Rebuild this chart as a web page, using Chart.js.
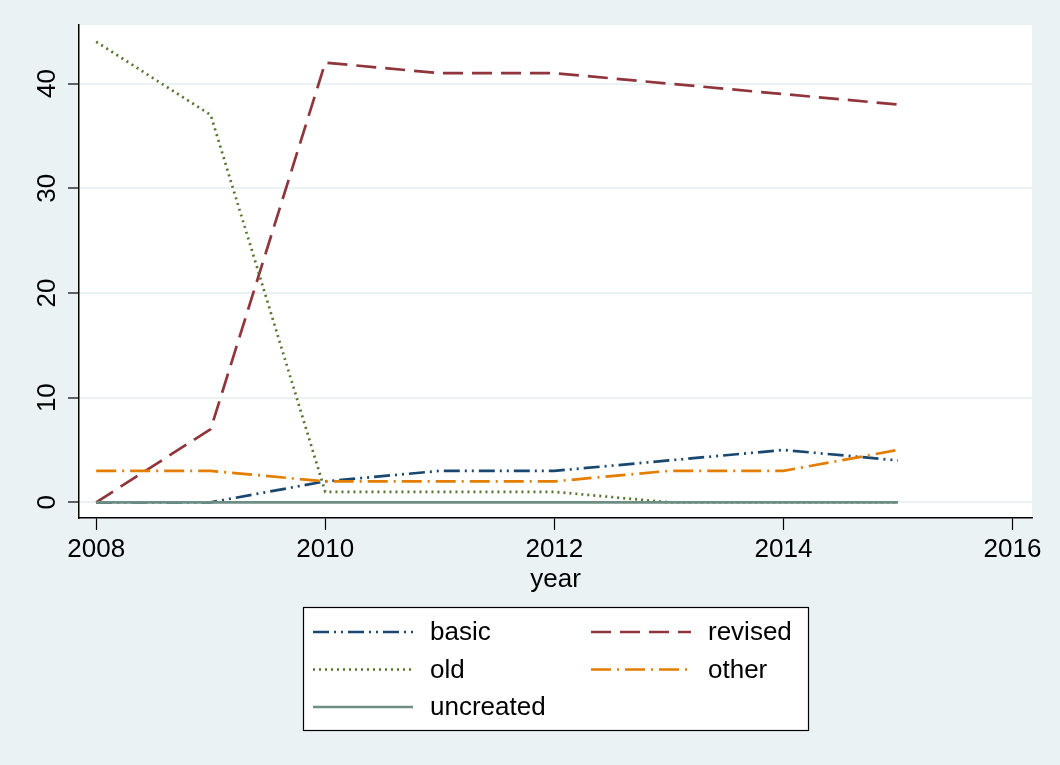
<!DOCTYPE html>
<html>
<head>
<meta charset="utf-8">
<script src="https://cdn.jsdelivr.net/npm/chart.js@4/dist/chart.umd.min.js"></script>
<style>
  html, body { margin: 0; padding: 0; background: #eaf2f3; }
  canvas { display: block; }
</style>
</head>
<body>
<canvas id="chart" width="1060" height="765"></canvas>
<script>
// data
const years = [2008, 2009, 2010, 2011, 2012, 2013, 2014, 2015];
const basic = [0, 0, 2, 3, 3, 4, 5, 4];
const revised = [0, 7, 42, 41, 41, 40, 39, 38];
const old = [44, 37, 1, 1, 1, 0, 0, 0];
const other = [3, 3, 2, 2, 2, 3, 3, 5];
const uncreated = [0, 0, 0, 0, 0, 0, 0, 0];
const xTicks = [2008, 2010, 2012, 2014, 2016];
const yTicks = [0, 10, 20, 30, 40];

const FONT = '"Liberation Sans", Arial, Helvetica, sans-serif';

function pts(arr) {
  return arr.map((v, i) => ({ x: years[i], y: v }));
}

function series(label, values, color, dash, order) {
  return {
    label: label,
    data: pts(values),
    borderColor: color,
    backgroundColor: color,
    borderWidth: 2.7,
    borderDash: dash,
    pointRadius: 0,
    tension: 0,
    order: order
  };
}

const datasets = [
  series('basic', basic, '#1a476f', [16, 5, 2, 5, 2, 5], 4),
  series('revised', revised, '#90353b', [20, 9], 3),
  series('old', old, '#55752f', [2, 4], 2),
  series('other', other, '#e37e00', [20, 6, 2, 6], 1),
  series('uncreated', uncreated, '#6e8e84', [], 0)
];

// white plot region
const plotBg = {
  id: 'plotBg',
  beforeDraw(chart) {
    const a = chart.chartArea;
    const ctx = chart.ctx;
    ctx.save();
    ctx.fillStyle = '#ffffff';
    ctx.fillRect(a.left, a.top, a.right - a.left, a.bottom - a.top);
    ctx.restore();
  }
};

// stata style legend box below the plot
const boxLegend = {
  id: 'boxLegend',
  afterDraw(chart) {
    const a = chart.chartArea;
    const ctx = chart.ctx;
    const w = 505, h = 123;
    const left = Math.round((a.left + a.right) / 2 - w / 2);
    const top = a.bottom + 89;
    ctx.save();
    ctx.fillStyle = '#ffffff';
    ctx.fillRect(left, top, w, h);
    ctx.strokeStyle = '#000000';
    ctx.lineWidth = 1.2;
    ctx.strokeRect(left + 0.5, top + 0.5, w, h);

    ctx.font = '26px ' + FONT;
    ctx.textBaseline = 'middle';
    ctx.textAlign = 'left';
    chart.data.datasets.forEach((ds, i) => {
      const col = i % 2, row = Math.floor(i / 2);
      const x0 = left + 10 + col * 278;
      const y = top + 25 + row * 37.5;
      ctx.strokeStyle = ds.borderColor;
      ctx.lineWidth = ds.borderWidth;
      ctx.setLineDash(ds.borderDash);
      ctx.beginPath();
      ctx.moveTo(x0, y);
      ctx.lineTo(x0 + 100, y);
      ctx.stroke();
      ctx.setLineDash([]);
      ctx.fillStyle = '#000000';
      ctx.fillText(ds.label, x0 + 117, y + 1);
    });
    ctx.restore();
  }
};

new Chart(document.getElementById('chart'), {
  type: 'line',
  data: { datasets: datasets },
  options: {
    responsive: false,
    animation: false,
    layout: { padding: { top: 25, right: 28, left: 0, bottom: 170 } },
    plugins: {
      legend: { display: false },
      tooltip: { enabled: false }
    },
    scales: {
      x: {
        type: 'linear',
        min: 2007.85,
        max: 2016.17,
        afterBuildTicks: (s) => { s.ticks = xTicks.map(v => ({ value: v })); },
        afterFit: (s) => { s.height = 77; },
        grid: { drawOnChartArea: false, tickLength: 12, tickColor: '#000000', tickWidth: 1.2 },
        border: { color: '#000000', width: 1.5 },
        ticks: {
          color: '#000000',
          font: { family: FONT, size: 26 },
          padding: 4,
          maxRotation: 0,
          callback: (v) => String(v)
        },
        title: {
          display: true,
          text: 'year',
          color: '#000000',
          font: { family: FONT, size: 26 },
          padding: { top: 0, bottom: 0 }
        }
      },
      y: {
        type: 'linear',
        min: -1.5,
        max: 45.6,
        afterBuildTicks: (s) => { s.ticks = yTicks.map(v => ({ value: v })); },
        afterFit: (s) => { s.width = 79; },
        grid: { color: '#eaf2f3', lineWidth: 2, tickLength: 11, tickColor: '#000000', tickWidth: 1.2 },
        border: { color: '#000000', width: 1.5 },
        ticks: {
          color: '#000000',
          font: { family: FONT, size: 26 },
          padding: 6,
          minRotation: 90,
          maxRotation: 90,
          crossAlign: 'center',
          callback: (v) => String(v)
        }
      }
    }
  },
  plugins: [plotBg, boxLegend]
});
</script>
</body>
</html>
